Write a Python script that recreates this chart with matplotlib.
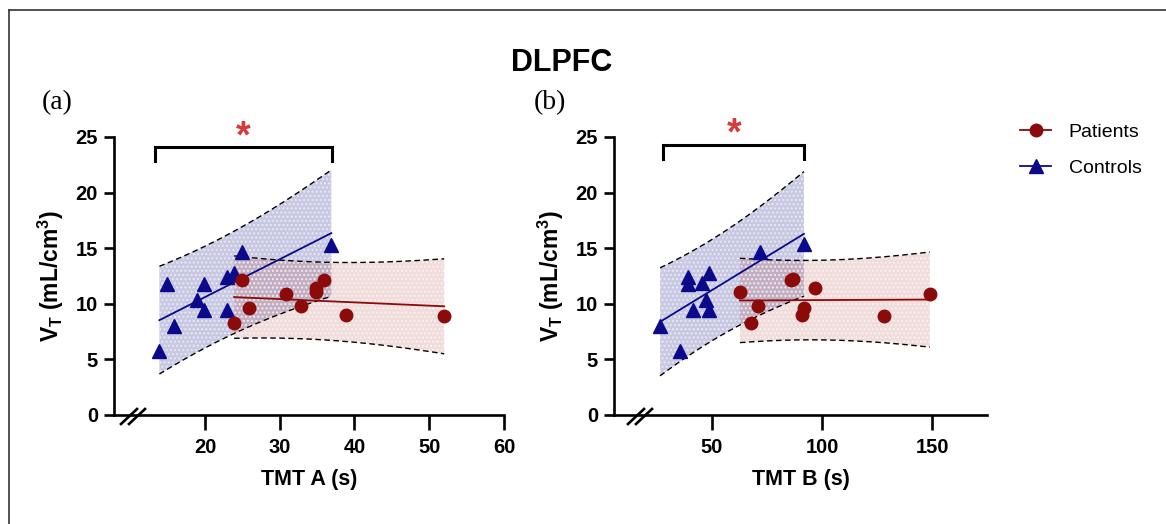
import numpy as np
import matplotlib
matplotlib.use("Agg")
import matplotlib.pyplot as plt
from matplotlib.lines import Line2D
from matplotlib.transforms import IdentityTransform

# ---------------- data ----------------
ctrl_tmta = [13.9, 14.9, 15.9, 18.9, 19.9, 19.9, 22.9, 22.9, 23.9, 24.9, 36.9]
ctrl_vt_a = [5.8, 11.8, 8.0, 10.3, 11.8, 9.4, 12.4, 9.4, 12.8, 14.7, 15.3]
pat_tmta = [23.9, 24.9, 25.9, 30.9, 32.9, 34.9, 34.9, 35.9, 38.8, 52.0]
pat_vt_a = [8.3, 12.1, 9.6, 10.9, 9.8, 11.4, 11.1, 12.1, 9.0, 8.9]

ctrl_tmtb = [26.4, 35.5, 39.2, 39.2, 41.5, 45.5, 47.3, 48.8, 48.8, 71.8, 91.8]
ctrl_vt_b = [8.0, 5.75, 12.4, 11.8, 9.4, 11.9, 10.3, 12.8, 9.4, 14.7, 15.4]
pat_tmtb = [62.7, 67.7, 70.8, 85.9, 87.0, 90.8, 91.8, 97.0, 128.0, 149.0]
pat_vt_b = [11.1, 8.3, 9.8, 12.1, 12.2, 9.0, 9.6, 11.4, 8.9, 10.9]

yticks = [0, 5, 10, 15, 20, 25]
xticks_a = [20, 30, 40, 50, 60]
xticks_b = [50, 100, 150]
T975 = {8: 2.306, 9: 2.262}   # t quantiles for 95% prediction band

# ---------------- style ----------------
plt.rcParams['font.family'] = ['Liberation Sans', 'DejaVu Sans']
plt.rcParams['mathtext.fontset'] = 'custom'
plt.rcParams['mathtext.rm'] = 'Liberation Sans:bold'
plt.rcParams['mathtext.bf'] = 'Liberation Sans:bold'
plt.rcParams['mathtext.it'] = 'Liberation Sans:bold'
plt.rcParams['hatch.color'] = (1, 1, 1, 0.55)
plt.rcParams['hatch.linewidth'] = 1.0

PAT = '#8b0a0a'
CTL = '#0a0a8a'
PAT_FILL = (0.61, 0.10, 0.06, 0.15)
CTL_FILL = (0.10, 0.10, 0.55, 0.24)

W, H = 1166, 524
fig = plt.figure(figsize=(W / 100, H / 100), dpi=100)


def px_axes(l, r, t, b):
    return fig.add_axes([l / W, 1 - b / H, (r - l) / W, (b - t) / H])


def fit_band(x, y):
    x = np.asarray(x, float)
    y = np.asarray(y, float)
    n = len(x)
    b1, b0 = np.polyfit(x, y, 1)
    res = y - (b0 + b1 * x)
    s = np.sqrt(np.sum(res ** 2) / (n - 2))
    xs = np.linspace(x.min(), x.max(), 200)
    yh = b0 + b1 * xs
    sxx = np.sum((x - x.mean()) ** 2)
    half = T975[n - 2] * s * np.sqrt(1 + 1 / n + (xs - x.mean()) ** 2 / sxx)
    return xs, yh, yh - half, yh + half


def panel(ax, cx, cy, px, py, xlim, xticks, xlabel, brk, br_y, ast):
    for x, y, col, fcol, mk, ms, z in [(cx, cy, CTL, CTL_FILL, '^', 10, 3),
                                         (px, py, PAT, PAT_FILL, 'o', 9, 4)]:
        xs, yh, lo, hi = fit_band(x, y)
        ax.fill_between(xs, lo, hi, facecolor=fcol, edgecolor=(1, 1, 1, 0.55),
                        hatch='....', linewidth=0, zorder=1)
        ax.plot(xs, lo, color='black', lw=1.0, ls=(0, (4, 2.5)), zorder=2)
        ax.plot(xs, hi, color='black', lw=1.0, ls=(0, (4, 2.5)), zorder=2)
        ax.plot(xs, yh, color=col, lw=1.3, zorder=z)
        ax.plot(x, y, ls='none', marker=mk, ms=ms, color=col, mec=col, zorder=z + 2)
    ax.set_xlim(*xlim)
    ax.set_ylim(0, 25)
    ax.set_xticks(xticks)
    ax.set_yticks(yticks)
    for s in ['top', 'right']:
        ax.spines[s].set_visible(False)
    for s in ['left', 'bottom']:
        ax.spines[s].set_linewidth(1.9)
    ax.tick_params(axis='y', length=7.5, width=1.9, labelsize=14.5, pad=4)
    ax.tick_params(axis='x', length=10.5, width=1.9, labelsize=14.5, pad=6)
    for lab in ax.get_xticklabels() + ax.get_yticklabels():
        lab.set_fontweight('bold')
    ax.set_xlabel(xlabel, fontsize=15.5, fontweight='bold', labelpad=9)
    ax.set_ylabel(r'$\mathbf{V_T}$ (mL/cm$^\mathbf{3}$)', fontsize=16.5,
                  fontweight='bold', labelpad=7)
    # bracket + asterisk
    x0, x1 = brk
    ax.plot([x0, x0, x1, x1], [br_y - 1.3, br_y, br_y, br_y - 1.3], color='black',
            lw=2.2, clip_on=False, solid_joinstyle='miter', zorder=6)
    ax.text(ast[0], ast[1], '*', color='#d63a3a', fontsize=27, fontweight='bold',
            ha='center', va='center', clip_on=False)


axA = px_axes(114, 504, 137, 415)
axB = px_axes(614, 987, 137, 415)
panel(axA, ctrl_tmta, ctrl_vt_a, pat_tmta, pat_vt_a, (7.83, 60), xticks_a,
      'TMT A (s)', (13.3, 37.0), 24.1, (25.1, 25.0))
panel(axB, ctrl_tmtb, ctrl_vt_b, pat_tmtb, pat_vt_b, (5.45, 175), xticks_b,
      'TMT B (s)', (27.6, 92.0), 24.3, (60.0, 25.2))

# axis-break marks (pixel coords)
idt = IdentityTransform()
for ox, oy, d0 in [(114, 415, 7), (614, 415, 14)]:
    for dx in (d0, d0 + 8):
        fig.add_artist(Line2D([ox + dx, ox + dx + 16], [H - (oy + 9), H - (oy - 6)],
                              color='black', lw=1.9, transform=idt))

# title and panel letters
fig.text(562 / W, 1 - 63 / H, 'DLPFC', fontsize=22, fontweight='bold',
         ha='center', va='center')
fig.text(57 / W, 1 - 103 / H, '(a)', fontsize=20, family='Liberation Serif',
         ha='center', va='center')
fig.text(550 / W, 1 - 103 / H, '(b)', fontsize=20, family='Liberation Serif',
         ha='center', va='center')

# legend
handles = [Line2D([], [], color=PAT, lw=1.3, marker='o', ms=9),
           Line2D([], [], color=CTL, lw=1.3, marker='^', ms=10)]
fig.legend(handles, ['Patients', 'Controls'], loc='center left',
           bbox_to_anchor=(1020 / W, 1 - 150 / H), frameon=False, fontsize=14,
           handlelength=1.6, handletextpad=0.9, labelspacing=0.95,
           borderpad=0, borderaxespad=0)

# outer frame (top and left)
fig.add_artist(Line2D([9, W], [H - 10, H - 10], color='#333333', lw=1.2, transform=idt))
fig.add_artist(Line2D([9, 9], [H - 10, 0], color='#333333', lw=1.2, transform=idt))

fig.savefig('out.png', dpi=100)
